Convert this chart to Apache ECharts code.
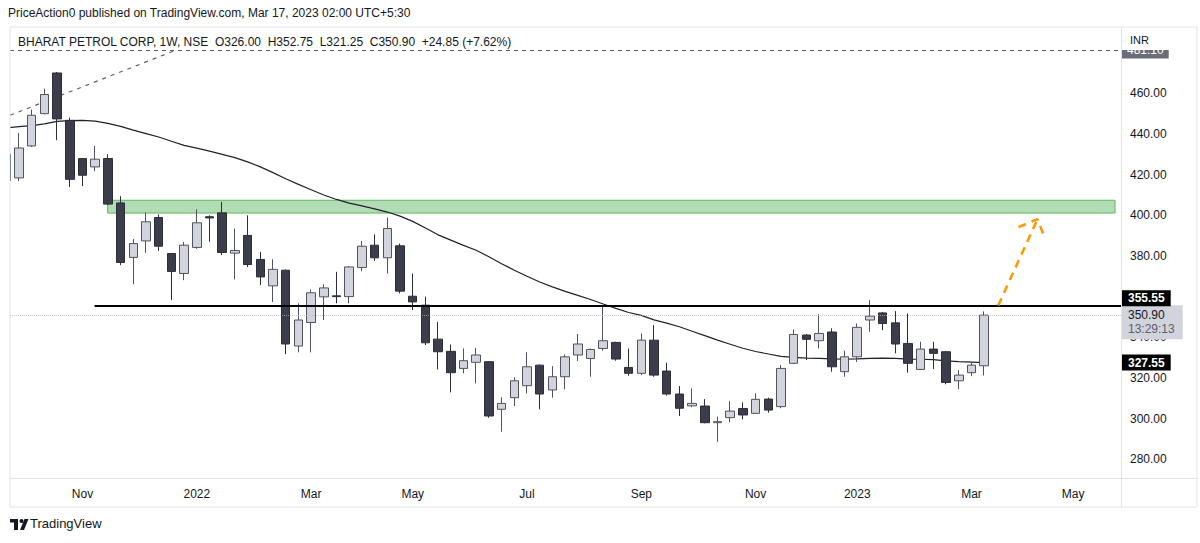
<!DOCTYPE html>
<html><head><meta charset="utf-8">
<script src="https://cdn.jsdelivr.net/npm/echarts@6/dist/echarts.min.js"></script>
<style>html,body{margin:0;padding:0;background:#fff}#c{width:1200px;height:543px}</style>
</head><body><div id="c"></div>
<script>
// ---- data (weekly candles, x = week index; index 0 = week of 27 Sep 2021) ----
const startIndex = -1;
const opens  = [430.0,418.4,434.1,450.0,470.0,446.7,427.9,423.8,427.9,406.1,379.3,387.4,398.9,381.2,371.4,384.2,399.3,401.2,381.4,390.1,378.3,365.3,373.0,335.7,347.3,359.9,360.4,360.0,374.3,385.3,379.1,385.0,360.2,355.8,339.1,333.1,324.7,327.7,328.0,304.6,310.3,316.2,326.3,314.1,320.6,331.3,329.6,334.5,337.5,325.2,322.3,338.6,323.4,312.1,306.3,306.2,298.0,300.5,305.0,302.6,309.6,305.9,327.2,341.1,338.3,342.6,323.1,330.4,348.5,352.0,347.1,337.0,324.2,334.2,332.9,318.6,322.6,326.0];
const highs  = [432.0,440.5,452.0,462.3,470.5,448.0,428.2,434.1,430.0,409.4,388.3,401.4,400.4,381.5,386.9,402.9,400.0,406.6,393.5,400.0,382.0,378.4,373.3,356.7,363.5,366.1,372.2,375.0,387.4,390.6,398.9,386.1,371.4,360.0,347.6,336.5,334.5,334.8,328.3,310.5,320.3,332.6,326.6,325.8,331.6,341.6,334.5,355.8,337.8,334.5,341.9,346.0,327.5,316.0,314.9,309.6,301.0,308.6,308.0,312.4,310.3,326.3,343.9,341.6,351.4,344.4,333.4,346.8,358.3,352.5,352.9,351.7,337.8,337.8,333.3,323.9,328.0,352.75];
const lows   = [414.5,416.9,433.6,449.7,436.9,414.0,414.4,421.7,405.0,375.5,366.1,381.5,382.5,358.3,368.1,383.5,387.0,380.4,368.5,374.6,365.7,357.4,331.7,332.6,332.6,348.5,356.7,356.7,372.5,377.6,371.4,361.6,353.4,336.2,324.2,312.9,322.3,317.3,300.4,293.6,306.2,312.4,304.6,310.3,314.4,328.3,320.6,333.4,328.5,321.1,321.4,320.6,311.3,301.3,305.6,297.7,288.6,298.2,299.7,302.3,302.9,305.1,326.8,328.8,334.5,323.1,320.6,327.9,342.7,343.5,332.1,322.6,323.9,324.4,316.9,314.5,320.9,321.25];
const closes = [417.0,433.1,449.2,459.4,447.4,417.7,419.7,427.6,405.5,376.8,386.1,396.8,384.8,372.4,385.3,396.3,398.7,381.7,382.7,375.8,369.7,373.4,336.7,348.5,361.9,364.3,360.0,374.6,384.8,379.1,393.5,362.7,357.4,337.3,332.9,322.6,328.5,331.3,301.3,307.5,318.6,325.5,312.1,320.6,330.4,336.7,334.0,338.3,329.3,322.3,338.6,321.4,312.1,305.1,307.5,298.0,298.5,303.7,301.8,309.5,304.2,324.7,341.4,339.0,341.9,325.5,330.4,344.9,350.4,346.8,336.7,327.2,334.2,332.1,317.8,321.4,326.3,350.9];
const maValues = [443.0,443.6,444.1,445.0,446.2,446.6,446.7,446.3,445.2,443.7,441.9,440.2,438.5,436.4,434.4,433.0,431.6,430.0,428.4,426.3,423.8,421.0,418.0,415.2,412.6,410.0,407.8,406.0,404.6,403.2,401.6,399.6,397.0,393.8,390.4,387.8,385.2,382.8,379.6,376.2,373.0,370.0,367.2,364.8,362.6,360.6,358.6,356.4,354.2,352.2,350.8,348.6,347.0,345.2,343.0,340.8,338.6,336.6,334.6,333.0,331.8,330.6,330.1,329.8,329.6,329.4,329.3,329.4,329.6,329.8,329.6,329.3,329.2,329.0,328.4,328.0,327.8,327.55];
const monthTickIndex  = [5, 14, 23, 31, 40, 49, 58, 66, 75, 83];
const monthTickLabels = ['Nov','2022','Mar','May','Jul','Sep','Nov','2023','Mar','May'];
const priceTicks = [280, 300, 320, 340, 360, 380, 400, 420, 440, 460];
const supportLevel = 355.55;
const supportStartIndex = 5.95;
const zoneLow = 401.1, zoneHigh = 407.4, zoneStartIndex = 6.98, zoneEndIndex = 86.3;
const lastPrice = 350.90;
const countdown = '13:29:13';
const maLast = 327.55;
const topLevel = 481.10;
const trendLine = [[-0.7, 449.2], [12.3, 481.1]];
const arrowShaft = [[77.1, 355.6], [80.2, 398.1]];
const arrowHead = [[78.7, 394.2], [80.2, 398.1], [80.8, 388.3]];
const titleText = 'PriceAction0 published on TradingView.com, Mar 17, 2023 02:00 UTC+5:30';
const legendText = 'BHARAT PETROL CORP, 1W, NSE  O326.00  H352.75  L321.25  C350.90  +24.85 (+7.62%)';

// ---- build ----
const X_MIN = -0.71, X_MAX = 86.77, Y_MIN = 270.8, Y_MAX = 481.3;
const GRID_LEFT = 10, GRID_TOP = 50, GRID_BOTTOM = 65, H = 543;
const pxPerUnit = (H - GRID_TOP - GRID_BOTTOM) / (Y_MAX - Y_MIN);
const lastLabelAnchor = lastPrice - 7 / pxPerUnit;        // countdown box hangs just below the price line
const supportLabelAnchor = supportLevel + 7.5 / pxPerUnit; // level box sits just above its line
const candleData = opens.map((o, k) => [startIndex + k, o, closes[k], lows[k], highs[k]]);
const maData = maValues.map((v, k) => [startIndex + k, v]);
const FONT = 'Liberation Sans, Arial, sans-serif';
const TXT = '#131722';
const FRAME = '#e0e3eb';
const CLEAR = 'rgba(0,0,0,0)';
const blackLabel = txt => ({show: true, position: 'end', distance: 1, formatter: () => txt,
  backgroundColor: '#000', color: '#fff', fontWeight: 'bold', fontSize: 12, padding: [2, 6], fontFamily: FONT});

const chart = echarts.init(document.getElementById('c'), null, {renderer: 'svg'});
chart.setOption({
  animation: false,
  backgroundColor: '#ffffff',
  textStyle: {fontFamily: FONT},
  grid: {left: GRID_LEFT, right: 79, top: GRID_TOP, bottom: GRID_BOTTOM, containLabel: false, outerBoundsMode: 'none'},
  xAxis: {
    type: 'value', min: X_MIN, max: X_MAX,
    axisLine: {show: false}, axisTick: {show: false}, splitLine: {show: false},
    axisLabel: {
      customValues: monthTickIndex, color: TXT, fontSize: 12, margin: 10, fontFamily: FONT,
      formatter: v => { const i = monthTickIndex.indexOf(Math.round(v)); return i >= 0 ? monthTickLabels[i] : ''; }
    }
  },
  yAxis: {
    type: 'value', position: 'right', min: Y_MIN, max: Y_MAX, scale: true,
    axisLine: {show: false}, axisTick: {show: false}, splitLine: {show: false},
    axisLabel: {customValues: priceTicks, color: TXT, fontSize: 12, margin: 9, fontFamily: FONT,
      formatter: v => Number(v).toFixed(2)}
  },
  series: [
    {
      name: 'zone', type: 'line', data: [], silent: true,
      markArea: {
        silent: true,
        itemStyle: {color: 'rgba(102,187,106,0.5)', borderColor: '#5cb85f', borderWidth: 1},
        data: [[{coord: [zoneStartIndex, zoneHigh]}, {coord: [zoneEndIndex, zoneLow]}]]
      }
    },
    {
      name: 'MA', type: 'line', data: maData, showSymbol: false, symbol: 'none', clip: true,
      lineStyle: {color: '#1e222d', width: 1.2}, z: 3
    },
    {
      name: 'BPCL', type: 'candlestick', data: candleData, barWidth: 9, z: 4, clip: true,
      itemStyle: {color: '#d1d4dc', color0: '#3b3e4a', borderColor: '#50535e', borderColor0: '#2b2e38', borderWidth: 1}
    },
    {
      name: 'trend', type: 'line', data: trendLine, showSymbol: false, symbol: 'none', clip: true,
      lineStyle: {color: '#5d606b', width: 1.2, type: [4, 5]}
    },
    {
      name: 'arrowShaft', type: 'line', data: arrowShaft, showSymbol: false, symbol: 'none', z: 6,
      lineStyle: {color: '#ff9800', width: 2.5, type: [8, 6]}
    },
    {
      name: 'arrowHead', type: 'line', data: arrowHead, showSymbol: false, symbol: 'none', z: 6,
      lineStyle: {color: '#ff9800', width: 2.5, type: [8, 6]}
    },
    {
      name: 'levels', type: 'line', data: [], clip: false, z: 8,
      markLine: {
        silent: true, symbol: ['none', 'none'], animation: false,
        data: [
          {yAxis: topLevel, lineStyle: {color: '#5d606b', width: 1, type: [4, 4]},
           label: {show: true, position: 'end', distance: 1, formatter: () => topLevel.toFixed(2),
             backgroundColor: '#6a6d78', color: '#fff', fontSize: 12, padding: [2, 5], fontFamily: FONT}},
          {yAxis: lastPrice, lineStyle: {color: '#b2b5be', width: 1, type: 'dotted', opacity: 0.7},
           label: {show: false}},
          {yAxis: lastLabelAnchor, lineStyle: {color: CLEAR, width: 1},
           label: {show: true, position: 'end', distance: 1,
             formatter: () => '{a|' + lastPrice.toFixed(2) + '}\n{b|' + countdown + '}',
             backgroundColor: '#d1d4dc', padding: [3, 8, 3, 6], fontFamily: FONT,
             rich: {a: {color: TXT, fontSize: 12, lineHeight: 14, fontFamily: FONT}, b: {color: '#5d606b', fontSize: 12, lineHeight: 14, fontFamily: FONT}}}},
          {yAxis: maLast, lineStyle: {color: CLEAR, width: 1}, label: blackLabel(maLast.toFixed(2))},
          [{coord: [supportStartIndex, supportLevel]}, {coord: [X_MAX, supportLevel],
             lineStyle: {color: '#000', width: 2, type: 'solid'}, label: {show: false}}],
          {yAxis: supportLabelAnchor, lineStyle: {color: CLEAR, width: 1}, label: blackLabel(supportLevel.toFixed(2))}
        ]
      }
    }
  ],
  graphic: [
    {type: 'rect', z: 100, silent: true, shape: {x: 0, y: GRID_TOP, width: GRID_LEFT, height: 430}, style: {fill: '#fff'}},
    {type: 'rect', z: 100, silent: true, shape: {x: 1122, y: 28, width: 74, height: 22}, style: {fill: '#fff'}},
    {type: 'rect', z: 101, silent: true, shape: {x: 10, y: 27, width: 1187, height: 480}, style: {fill: 'none', stroke: FRAME, lineWidth: 1}},
    {type: 'line', z: 101, silent: true, shape: {x1: 1121.5, y1: 27, x2: 1121.5, y2: 507}, style: {stroke: FRAME, lineWidth: 1}},
    {type: 'line', z: 101, silent: true, shape: {x1: 10, y1: 478.5, x2: 1197, y2: 478.5}, style: {stroke: FRAME, lineWidth: 1}},
    {type: 'text', z: 101, left: 1130, top: 34, style: {text: 'INR', fill: TXT, fontSize: 11, fontFamily: FONT}},
    {type: 'text', z: 101, left: 8, top: 7, style: {text: titleText, fill: TXT, fontSize: 12, fontFamily: FONT}},
    {type: 'text', z: 101, left: 18, top: 36, style: {text: legendText, fill: TXT, fontSize: 12, fontFamily: FONT}},
    {type: 'text', z: 101, left: 30, top: 517, style: {text: 'TradingView', fill: TXT, fontSize: 13, fontFamily: FONT}},
    {type: 'rect', z: 101, silent: true, shape: {x: 10, y: 519, width: 8, height: 3.5}, style: {fill: TXT}},
    {type: 'rect', z: 101, silent: true, shape: {x: 14, y: 519, width: 4, height: 11}, style: {fill: TXT}},
    {type: 'circle', z: 101, silent: true, shape: {cx: 21.5, cy: 521, r: 2}, style: {fill: TXT}},
    {type: 'polygon', z: 101, silent: true, shape: {points: [[20, 530], [24.5, 519], [28.5, 519], [24, 530]]}, style: {fill: TXT}}
  ]
});
</script></body></html>
